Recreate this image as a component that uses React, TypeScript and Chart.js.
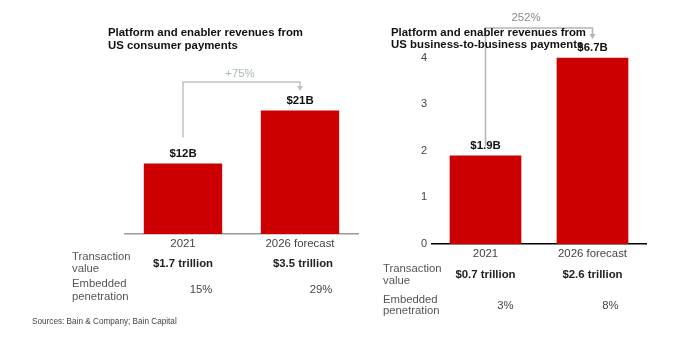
import React, { useEffect, useRef } from 'react';
import { Chart, registerables } from 'chart.js';

Chart.register(...registerables);

const categories = ['2021', '2026 forecast'];
const consumerRevenue = [12, 21];
const b2bRevenue = [1.9, 6.7];
const consumerTransaction = ['$1.7 trillion', '$3.5 trillion'];
const consumerPenetration = ['15%', '29%'];
const b2bTransaction = ['$0.7 trillion', '$2.6 trillion'];
const b2bPenetration = ['3%', '8%'];
const consumerGrowth = '+75%';
const b2bGrowth = '252%';
const consumerTitle = ['Platform and enabler revenues from', 'US consumer payments'];
const b2bTitle = ['Platform and enabler revenues from', 'US business-to-business payments'];
const rowLabelTransaction = ['Transaction', 'value'];
const rowLabelPenetration = ['Embedded', 'penetration'];
const sourceNote = 'Sources: Bain & Company; Bain Capital';

const FONT = '"Liberation Sans", Arial, Helvetica, sans-serif';
const RED = '#CC0000';

type OverlayCfg = {
  title: string[];
  titleX: number;
  titleY: number[];
  growth: string;
  growthColor: string;
  growthDX: number;
  growthY: number;
  bracketColor: string;
  bracketY: number;
  bracketGap: number;
  arrowY: number;
  transaction: string[];
  penetration: string[];
  rowX: number;
  transY: number[];
  penY: number[];
  transValY: number;
  penValY: number;
  transDX: number[];
  penDX: number[];
  source?: { text: string; x: number; y: number };
};

const makeOverlay = (cfg: OverlayCfg) => ({
  id: 'overlay',
  afterDraw(chart: any) {
    const ctx = chart.ctx as CanvasRenderingContext2D;
    const xs = chart.scales.x;
    const ys = chart.scales.y;
    const area = chart.chartArea;
    const values = chart.data.datasets[0].data as number[];
    const cx = [xs.getPixelForValue(0), xs.getPixelForValue(1)];
    const top = (i: number) => Math.max(ys.getPixelForValue(values[i]), area.top);
    ctx.save();
    // bracket
    ctx.strokeStyle = cfg.bracketColor;
    ctx.lineWidth = 1.5;
    ctx.beginPath();
    ctx.moveTo(cx[0], top(0) - cfg.bracketGap);
    ctx.lineTo(cx[0], cfg.bracketY);
    ctx.lineTo(cx[1], cfg.bracketY);
    ctx.lineTo(cx[1], cfg.arrowY - 4);
    ctx.stroke();
    ctx.fillStyle = cfg.bracketColor;
    ctx.beginPath();
    ctx.moveTo(cx[1] - 3, cfg.arrowY - 5);
    ctx.lineTo(cx[1] + 3, cfg.arrowY - 5);
    ctx.lineTo(cx[1], cfg.arrowY);
    ctx.closePath();
    ctx.fill();
    // growth label
    ctx.textBaseline = 'middle';
    ctx.textAlign = 'center';
    ctx.font = `11.4px ${FONT}`;
    ctx.fillStyle = cfg.growthColor;
    ctx.fillText(cfg.growth, (cx[0] + cx[1]) / 2 + cfg.growthDX, cfg.growthY);
    // title
    ctx.textAlign = 'left';
    ctx.font = `bold 11.4px ${FONT}`;
    ctx.fillStyle = '#111';
    cfg.title.forEach((t, i) => ctx.fillText(t, cfg.titleX, cfg.titleY[i]));
    // bar value labels
    ctx.textAlign = 'center';
    ctx.font = `bold 11.4px ${FONT}`;
    ctx.fillStyle = '#111';
    values.forEach((v, i) => ctx.fillText(`$${v}B`, cx[i], top(i) - 9.5));
    // table row labels
    ctx.textAlign = 'left';
    ctx.font = `11.3px ${FONT}`;
    ctx.fillStyle = '#555';
    rowLabelTransaction.forEach((t, i) => ctx.fillText(t, cfg.rowX, cfg.transY[i]));
    rowLabelPenetration.forEach((t, i) => ctx.fillText(t, cfg.rowX, cfg.penY[i]));
    // table values
    ctx.textAlign = 'center';
    ctx.font = `bold 11.4px ${FONT}`;
    ctx.fillStyle = '#222';
    cfg.transaction.forEach((t, i) => ctx.fillText(t, cx[i] + cfg.transDX[i], cfg.transValY));
    ctx.font = `11.3px ${FONT}`;
    ctx.fillStyle = '#444';
    cfg.penetration.forEach((t, i) => ctx.fillText(t, cx[i] + cfg.penDX[i], cfg.penValY));
    if (cfg.source) {
      ctx.textAlign = 'left';
      ctx.font = `8.2px ${FONT}`;
      ctx.fillStyle = '#444';
      ctx.fillText(cfg.source.text, cfg.source.x, cfg.source.y);
    }
    ctx.restore();
  },
});

export default function App() {
  const leftRef = useRef<HTMLCanvasElement>(null);
  const rightRef = useRef<HTMLCanvasElement>(null);

  useEffect(() => {
    const left = new Chart(leftRef.current as HTMLCanvasElement, {
      type: 'bar',
      data: {
        labels: categories,
        datasets: [
          {
            data: consumerRevenue,
            backgroundColor: RED,
            barPercentage: 0.67,
            categoryPercentage: 1,
          },
        ],
      },
      options: {
        responsive: false,
        animation: false,
        layout: { padding: { left: 124.5, right: 1.5, top: 87, bottom: 95.3 } },
        plugins: { legend: { display: false }, tooltip: { enabled: false } },
        scales: {
          x: {
            grid: { display: false, drawTicks: false },
            border: { display: true, color: '#9a9a9a', width: 1.5 },
            ticks: { color: '#444', font: { family: FONT, size: 11.4 }, padding: 3 },
          },
          y: { display: false, min: 0, max: 25 },
        },
      },
      plugins: [
        makeOverlay({
          title: consumerTitle,
          titleX: 108,
          titleY: [33, 45.5],
          growth: consumerGrowth,
          growthColor: '#a9b8b1',
          growthDX: -1.5,
          growthY: 74,
          bracketColor: '#c2c2c2',
          bracketY: 82,
          bracketGap: 26,
          arrowY: 91,
          transaction: consumerTransaction,
          penetration: consumerPenetration,
          rowX: 72,
          transY: [257, 269],
          penY: [284, 297],
          transValY: 264,
          penValY: 290,
          transDX: [0, 3],
          penDX: [18, 21],
          source: { text: sourceNote, x: 32, y: 322 },
        }),
      ],
    });

    const right = new Chart(rightRef.current as HTMLCanvasElement, {
      type: 'bar',
      data: {
        labels: categories,
        datasets: [
          {
            data: b2bRevenue,
            backgroundColor: RED,
            barPercentage: 0.67,
            categoryPercentage: 1,
          },
        ],
      },
      options: {
        responsive: false,
        animation: false,
        layout: { padding: { left: 52, right: 35, top: 57.7, bottom: 85.3 } },
        plugins: { legend: { display: false }, tooltip: { enabled: false } },
        scales: {
          x: {
            grid: { display: false, drawTicks: false },
            border: { display: true, color: '#000', width: 1.5 },
            ticks: { color: '#444', font: { family: FONT, size: 11.4 }, padding: 3 },
          },
          y: {
            min: 0,
            max: 4,
            grid: { display: false, drawTicks: false },
            border: { display: false },
            ticks: { stepSize: 1, color: '#444', font: { family: FONT, size: 11 }, padding: 5 },
            afterFit: (s: any) => {
              s.width = 20;
            },
          },
        },
      },
      plugins: [
        makeOverlay({
          title: b2bTitle,
          titleX: 31,
          titleY: [33, 45],
          growth: b2bGrowth,
          growthColor: '#8a8a8a',
          growthDX: -13,
          growthY: 18,
          bracketColor: '#b5b5b5',
          bracketY: 28,
          bracketGap: 9,
          arrowY: 39,
          transaction: b2bTransaction,
          penetration: b2bPenetration,
          rowX: 23,
          transY: [269, 281],
          penY: [300, 311],
          transValY: 275,
          penValY: 306,
          transDX: [0, 0],
          penDX: [20, 18],
        }),
      ],
    });

    return () => {
      left.destroy();
      right.destroy();
    };
  }, []);

  return (
    <div style={{ position: 'fixed', left: 0, top: 0, width: 681, height: 349, background: '#fff' }}>
      <canvas ref={leftRef} width={360} height={349} style={{ position: 'absolute', left: 0, top: 0 }} />
      <canvas ref={rightRef} width={321} height={349} style={{ position: 'absolute', left: 360, top: 0 }} />
    </div>
  );
}
